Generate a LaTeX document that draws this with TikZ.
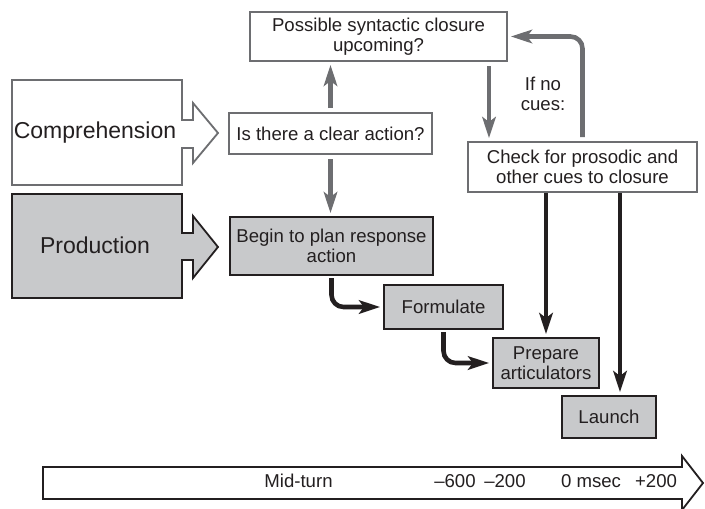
\documentclass[tikz,border=0pt]{standalone}
\usepackage{fontspec}
\setmainfont{Liberation Sans}
\usetikzlibrary{arrows.meta}
\definecolor{lgray}{HTML}{6D6E71}
\definecolor{dk}{HTML}{231F20}
\definecolor{fillg}{HTML}{C8C9CB}
\begin{document}
\begin{tikzpicture}[x=1pt,y=-1pt,
  txt/.style={text=dk, align=center, inner sep=0pt, font=\fontsize{18.6}{20.5}\selectfont},
  gbox/.style={txt, draw=lgray, line width=2pt, fill=white},
  dbox/.style={txt, draw=dk, line width=2pt, fill=fillg},
  bigtxt/.style={text=dk, inner sep=0pt, font=\fontsize{23}{26}\selectfont},
  garrow/.style={draw=lgray, line width=4.6pt, -{Stealth[length=21pt,width=13.5pt,inset=5pt]}, shorten >=3pt, shorten <=4pt},
  karrow/.style={draw=dk, line width=4.6pt, -{Stealth[length=21pt,width=13.5pt,inset=5pt]}, shorten >=3pt}
]
\useasboundingbox (0,0) rectangle (705,509);
\coordinate (dx) at (489,0);
\coordinate (lx) at (620,0);

% block arrows
\draw[draw=lgray, line width=1.8pt, fill=white] (12,80) -- (182,80) -- (182,120) -- (193,120) -- (193,103) -- (218,133) -- (193,163) -- (193,148) -- (182,148) -- (182,185) -- (12,185) -- cycle;
\node[bigtxt] (comp) at (95,133) {Comprehension};
\draw[draw=dk, line width=1.8pt, fill=fillg] (12,194) -- (182,194) -- (182,233) -- (193,233) -- (193,216) -- (218,247) -- (193,278) -- (193,260) -- (182,260) -- (182,298) -- (12,298) -- cycle;
\node[bigtxt] (prod) at (95,245) {Production};

% boxes
\node[gbox, minimum width=257pt, minimum height=49pt] (possible) at (378.5,36.5) {Possible syntactic closure\\upcoming?};
\node[gbox, minimum width=203pt, minimum height=41pt] (isthere) at (330.5,133.5) {Is there a clear action?};
\node[gbox, minimum width=229pt, minimum height=50pt] (check) at (582.5,167) {Check for prosodic and\\other cues to closure};
\node[dbox, minimum width=203pt, minimum height=58pt] (begin) at (331.5,246) {Begin to plan response\\action};
\node[dbox, minimum width=119pt, minimum height=44pt] (formulate) at (443.5,307) {Formulate};
\node[dbox, minimum width=106pt, minimum height=50pt] (prepare) at (546,363) {Prepare\\articulators};
\node[dbox, minimum width=94pt, minimum height=42pt] (launch) at (609,417) {Launch};

% gray connectors
\draw[garrow] (isthere.north) -- (isthere.north |- possible.south);
\draw[garrow] (isthere.south) -- (isthere.south |- begin.north);
\draw[garrow] (possible.south -| dx) -- (check.north -| dx);
\draw[garrow, rounded corners=12pt] (check.north) |- (possible.east);
\node[txt] (ifno) at (543,94) {If no\\cues:};

% black connectors
\draw[karrow, shorten <=2pt, rounded corners=12pt] (begin.south) |- (formulate.west);
\draw[karrow, shorten <=2pt, rounded corners=12pt] (formulate.south) |- (prepare.west);
\draw[karrow] (check.south -| prepare.north) -- (prepare.north);
\draw[karrow] (check.south -| lx) -- (launch.north -| lx);

% timeline
\draw[draw=dk, line width=1.8pt, fill=white] (43,467) -- (682,467) -- (682,456) -- (703,483) -- (682,510) -- (682,499) -- (43,499) -- cycle;
\node[txt] (mid) at (298.5,481) {Mid-turn};
\node[txt] (t600) at (455,481) {–600};
\node[txt] (t200) at (505,481) {–200};
\node[txt] (t0) at (591,481) {0 msec};
\node[txt] (tp200) at (656,481) {+200};
\end{tikzpicture}
\end{document}
